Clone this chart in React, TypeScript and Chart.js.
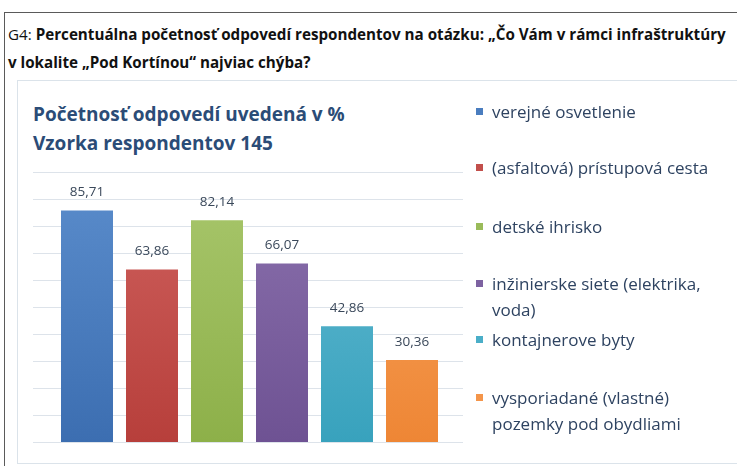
import React, { useEffect, useRef } from "react";
import { Chart, registerables } from "chart.js";

Chart.register(...registerables);

const categories = [
  "verejné osvetlenie",
  "(asfaltová) prístupová cesta",
  "detské ihrisko",
  "inžinierske siete (elektrika, voda)",
  "kontajnerove byty",
  "vysporiadané (vlastné) pozemky pod obydliami",
];
const values = [85.71, 63.86, 82.14, 66.07, 42.86, 30.36];
const legendLines = [
  ["verejné osvetlenie"],
  ["(asfaltová) prístupová cesta"],
  ["detské ihrisko"],
  ["inžinierske siete (elektrika,", "voda)"],
  ["kontajnerove byty"],
  ["vysporiadané (vlastné)", "pozemky pod obydliami"],
];
const yMin = 0;
const yMax = 100;
const yStep = 10;

const titlePrefix = "G4: ";
const titleBold1 = "Percentuálna početnosť odpovedí respondentov na otázku: „Čo Vám v rámci infraštruktúry";
const titleBold2 = "v lokalite „Pod Kortínou“ najviac chýba?";
const chartTitle = ["Početnosť odpovedí uvedená v %", "Vzorka respondentov 145"];

const barTop = ["#5b8dcc", "#d0625f", "#a9c76d", "#8c72ae", "#66bbd3", "#f9a660"];
const barBottom = ["#3c6eb1", "#b73f3b", "#8db049", "#6e5293", "#38a2bd", "#ee8635"];
const legendColors = ["#4a7dbf", "#c24f4b", "#9abb5a", "#7d62a1", "#4aaec8", "#f4954a"];
const legendTops = [112, 168, 227, 284, 340, 398];

const fmt = (v: number) => v.toFixed(2).replace(".", ",");

const gridPlugin = {
  id: "wideGrid",
  beforeDatasetsDraw(chart: any) {
    const { ctx, chartArea, scales } = chart;
    const y = scales.y;
    ctx.save();
    ctx.strokeStyle = "#dde3ea";
    ctx.lineWidth = 1;
    for (let v = yMin; v <= yMax; v += yStep) {
      const py = Math.round(y.getPixelForValue(v)) + 0.5;
      ctx.beginPath();
      ctx.moveTo(chartArea.left - 21.5, py);
      ctx.lineTo(chartArea.right + 18.5, py);
      ctx.stroke();
    }
    ctx.restore();
  },
};

const labelPlugin = {
  id: "valueLabels",
  afterDatasetsDraw(chart: any) {
    const { ctx } = chart;
    const meta = chart.getDatasetMeta(0);
    ctx.save();
    ctx.fillStyle = "#3a485a";
    ctx.font = "13.5px 'Open Sans'";
    ctx.textAlign = "center";
    ctx.textBaseline = "middle";
    meta.data.forEach((bar: any, i: number) => {
      ctx.fillText(fmt(values[i]), bar.x, bar.y - 18);
    });
    ctx.restore();
  },
};

export default function App() {
  const ref = useRef<HTMLCanvasElement>(null);
  useEffect(() => {
    if (!ref.current) return;
    const chart = new Chart(ref.current, {
      type: "bar",
      data: {
        labels: categories,
        datasets: [
          {
            data: values,
            backgroundColor: (c: any) => {
              const { chart, dataIndex } = c;
              const area = chart.chartArea;
              if (!area) return legendColors[dataIndex];
              const g = chart.ctx.createLinearGradient(0, area.top, 0, area.bottom);
              g.addColorStop(0, barTop[dataIndex]);
              g.addColorStop(1, barBottom[dataIndex]);
              return g;
            },
            borderWidth: 0,
            categoryPercentage: 1,
            barPercentage: 0.8,
          },
        ],
      },
      options: {
        animation: false,
        responsive: false,
        maintainAspectRatio: false,
        layout: { padding: { left: 37.5, right: 292.5, top: 92, bottom: 21 } },
        plugins: { legend: { display: false }, tooltip: { enabled: false }, title: { display: false } },
        scales: {
          x: { display: false },
          y: { display: false, min: yMin, max: yMax, ticks: { stepSize: yStep } },
        },
      },
      plugins: [gridPlugin, labelPlugin],
    });
    return () => chart.destroy();
  }, []);

  const font = "'Open Sans', sans-serif";
  return (
    <div style={{ position: "absolute", left: 0, top: 0, width: 737, height: 466, overflow: "hidden", background: "#fff", fontFamily: font }}>
      <div style={{ position: "absolute", left: 4, top: 12, width: 760, height: 480, border: "1px solid #5a5a5a" }} />
      <div style={{ position: "absolute", left: 8, top: 20, fontSize: 15.2, lineHeight: "28px", color: "#111", whiteSpace: "nowrap" }}>
        <div>
          {titlePrefix}
          <b>{titleBold1}</b>
        </div>
        <div>
          <b>{titleBold2}</b>
        </div>
      </div>
      <div style={{ position: "absolute", left: 17, top: 80, width: 760, height: 382, border: "1px solid #dbe3ea", borderRight: "none" }} />
      <div style={{ position: "absolute", left: 33, top: 100, fontSize: 19, fontWeight: 700, lineHeight: "29px", color: "#2b4c77", whiteSpace: "nowrap" }}>
        {chartTitle.map((t, i) => (
          <div key={i}>{t}</div>
        ))}
      </div>
      <canvas ref={ref} width={720} height={383} style={{ position: "absolute", left: 17, top: 80, width: 720, height: 383 }} />
      {legendLines.map((lines, i) => (
        <div key={i} style={{ position: "absolute", left: 476, top: legendTops[i] - 13, fontSize: 17, lineHeight: "26px", color: "#2e4361", whiteSpace: "nowrap" }}>
          <div style={{ position: "absolute", left: 0, top: 9, width: 7, height: 7, background: legendColors[i] }} />
          <div style={{ marginLeft: 16 }}>
            {lines.map((l, j) => (
              <div key={j}>{l}</div>
            ))}
          </div>
        </div>
      ))}
    </div>
  );
}
